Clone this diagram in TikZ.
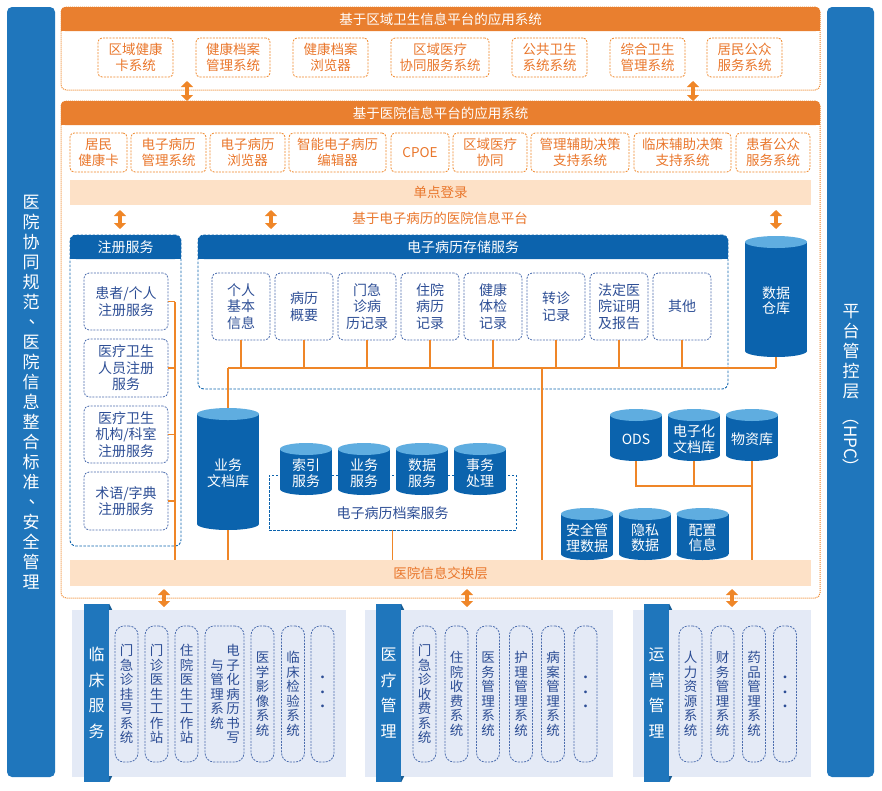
\documentclass[tikz,border=0pt]{standalone}
\usepackage{fontspec}
\setmainfont{Noto Sans CJK SC}
\usetikzlibrary{arrows.meta}

\definecolor{hdrorange}{HTML}{E97F2F}
\definecolor{txtorange}{HTML}{E9762B}
\definecolor{lineorange}{HTML}{EF8628}
\definecolor{peach}{HTML}{FDE1C7}
\definecolor{barblue}{HTML}{1F76BC}
\definecolor{hdrblue}{HTML}{0C63AD}
\definecolor{dbblue}{HTML}{0B63AD}
\definecolor{dbtop}{HTML}{5FADE0}
\definecolor{txtblue}{HTML}{2D4E95}
\definecolor{dashblue}{HTML}{4C6DAE}
\definecolor{panelbg}{HTML}{E4EAF6}

\tikzset{
  framebox/.style={draw=lineorange, dash pattern=on 1pt off 1pt, line width=1pt, rounded corners=5pt, inner sep=0pt},
  hdrband/.style={fill=hdrorange, rounded corners=4pt, text=white, inner sep=0pt, minimum width=759pt, minimum height=24pt, font=\fontsize{13.5}{16}\selectfont},
  orgbox/.style={draw=lineorange, dash pattern=on 2pt off 1.2pt, line width=0.8pt, rounded corners=4pt, text=txtorange, align=center, inner sep=0pt, minimum height=39pt, font=\fontsize{13.5}{16.5}\selectfont},
  peachband/.style={fill=peach, text=txtorange, inner sep=0pt, minimum width=741pt, font=\fontsize{13.5}{16}\selectfont},
  panel/.style={draw=hdrblue, dash pattern=on 2.5pt off 1.5pt, line width=0.9pt, rounded corners=6pt, inner sep=0pt},
  bluehdr/.style={fill=hdrblue, rounded corners=6pt, text=white, inner sep=0pt, minimum height=24pt, font=\fontsize{14}{16}\selectfont},
  bluebox/.style={draw=dashblue, dash pattern=on 2pt off 1.2pt, line width=0.8pt, rounded corners=5pt, text=txtblue, align=center, inner sep=0pt, font=\fontsize{14}{16.5}\selectfont},
  vbox/.style={bluebox, rounded corners=9pt, minimum width=23pt, minimum height=136pt, font=\fontsize{13.5}{14.5}\selectfont},
  vtext/.style={text=txtblue, align=center, inner sep=0pt, font=\fontsize{13.5}{14.5}\selectfont},
  cylbox/.style={inner sep=0pt},
  cyltext/.style={text=white, align=center, inner sep=0pt, font=\fontsize{14}{15.5}\selectfont},
  sidebar/.style={fill=barblue, rounded corners=5pt, text=white, align=center, inner sep=0pt, font=\fontsize{17}{20}\selectfont},
  tab/.style={fill=barblue, text=white, align=center, inner sep=0pt, minimum width=25pt, minimum height=178pt, font=\fontsize{16}{25.7}\selectfont},
  dblarrow/.style={draw=lineorange, line width=4pt, {Triangle[width=12pt,length=6pt]}-{Triangle[width=12pt,length=6pt]}},
  link/.style={draw=lineorange, line width=1.2pt},
}

% database drum: name, x, y, width, height, text
\newcommand{\dbcyl}[6]{%
  \fill[dbblue] ({#2-#4/2},{#3-#5/2+6}) rectangle ({#2+#4/2},{#3+#5/2-6});
  \fill[dbblue] (#2,{#3+#5/2-6}) ellipse [x radius=#4/2, y radius=6];
  \fill[dbtop] (#2,{#3-#5/2+6}) ellipse [x radius=#4/2, y radius=6];
  \node[cylbox, minimum width=#4pt, minimum height=#5pt] (#1) at (#2,#3) {};
  \node[cyltext] (#1T) at ([yshift=-4pt]#1.center) {#6};
}
% vertical comma
\newcommand{\vcomma}{\makebox[17pt][l]{\hspace{6pt}\raisebox{5pt}{、}}}

\begin{document}
\begin{tikzpicture}[x=1pt,y=-1pt]
  \useasboundingbox (0,0) rectangle (882,790);

  % side bars
  \node[sidebar, minimum width=48pt, minimum height=770pt] (lbar) at (31,392) {医\\院\\协\\同\\规\\范\\\vcomma\\医\\院\\信\\息\\整\\合\\标\\准\\\vcomma\\安\\全\\管\\理};
  \node[sidebar, minimum width=47pt, minimum height=770pt] (rbar) at (850.5,392) {};
  \node[text=white, align=center, font=\fontsize{17}{20}\selectfont] (hpcA) at (851,352) {平\\台\\管\\控\\层};
  \node[text=white, rotate=-90, font=\fontsize{17}{20}\selectfont] (hpcB) at (851,442) {（HPC）};

  % regional platform
  \node[framebox, minimum width=759pt, minimum height=83pt] (frameA) at (440.5,48.5) {};
  \fill[hdrorange] (61,19) rectangle (820,31);
  \node[hdrband] (hdrA) at (440.5,19) {基于区域卫生信息平台的应用系统};
  \begin{scope}[every node/.style={orgbox}]
    \node[minimum width=75pt] (reg1) at (135.5,57.5) {区域健康\\卡系统};
    \node[minimum width=74pt] (reg2) at (233,57.5) {健康档案\\管理系统};
    \node[minimum width=75pt] (reg3) at (330.5,57.5) {健康档案\\浏览器};
    \node[minimum width=98pt] (reg4) at (440,57.5) {区域医疗\\协同服务系统};
    \node[minimum width=75pt] (reg5) at (549.5,57.5) {公共卫生\\系统系统};
    \node[minimum width=75pt] (reg6) at (647.5,57.5) {综合卫生\\管理系统};
    \node[minimum width=75pt] (reg7) at (744.5,57.5) {居民公众\\服务系统};
  \end{scope}

  % hospital platform
  \node[framebox, minimum width=759pt, minimum height=497pt] (frameB) at (440.5,349.5) {};
  \fill[hdrorange] (61,113) rectangle (820,125);
  \node[hdrband] (hdrB) at (440.5,113) {基于医院信息平台的应用系统};
  \begin{scope}[every node/.style={orgbox}]
    \node[minimum width=57pt] (hos1) at (98.5,152.5) {居民\\健康卡};
    \node[minimum width=75pt] (hos2) at (168.5,152.5) {电子病历\\管理系统};
    \node[minimum width=75pt] (hos3) at (247.5,152.5) {电子病历\\浏览器};
    \node[minimum width=97pt] (hos4) at (337.5,152.5) {智能电子病历\\编辑器};
    \node[minimum width=58pt] (hos5) at (420,152.5) {CPOE};
    \node[minimum width=74pt] (hos6) at (490,152.5) {区域医疗\\协同};
    \node[minimum width=98pt] (hos7) at (580,152.5) {管理辅助决策\\支持系统};
    \node[minimum width=97pt] (hos8) at (682.5,152.5) {临床辅助决策\\支持系统};
    \node[minimum width=74pt] (hos9) at (773,152.5) {患者公众\\服务系统};
  \end{scope}
  \node[peachband, minimum height=25pt] (sso) at (440.5,192.5) {单点登录};
  \node[text=txtorange, font=\fontsize{13.5}{16}\selectfont] (emrPlat) at (440,218) {基于电子病历的医院信息平台};

  \coordinate (up1a) at (187,81);  \coordinate (up1b) at (187,101);
  \coordinate (up2a) at (693,81);  \coordinate (up2b) at (693,101);
  \coordinate (ss1a) at (120,210); \coordinate (ss1b) at (120,229);
  \coordinate (ss2a) at (271,210); \coordinate (ss2b) at (271,229);
  \coordinate (ss3a) at (776,210); \coordinate (ss3b) at (776,229);
  \draw[dblarrow] (up1a) -- (up1b);
  \draw[dblarrow] (up2a) -- (up2b);
  \draw[dblarrow] (ss1a) -- (ss1b);
  \draw[dblarrow] (ss2a) -- (ss2b);
  \draw[dblarrow] (ss3a) -- (ss3b);

  % register service
  \node[panel, minimum width=111pt, minimum height=311pt] (regPanel) at (125.5,390.5) {};
  \fill[hdrblue] (70,247) rectangle (181,259);
  \node[bluehdr, minimum width=111pt] (regHdr) at (125.5,247) {注册服务};
  \begin{scope}[every node/.style={bluebox, minimum width=84pt}]
    \node[minimum height=57pt] (rs1) at (126,301.5) {患者/个人\\注册服务};
    \node[minimum height=58pt] (rs2) at (126,368) {医疗卫生\\人员注册\\服务};
    \node[minimum height=57pt] (rs3) at (126,434.5) {医疗卫生\\机构/科室\\注册服务};
    \node[minimum height=58pt] (rs4) at (126,501) {术语/字典\\注册服务};
  \end{scope}

  % emr storage
  \node[panel, minimum width=530pt, minimum height=154pt] (emrPanel) at (463,312) {};
  \fill[hdrblue] (198,247) rectangle (728,259);
  \node[bluehdr, minimum width=530pt] (emrHdr) at (463,247) {电子病历存储服务};
  \begin{scope}[every node/.style={bluebox, minimum width=58pt, minimum height=67pt}]
    \node (emr1) at (241,306.5) {个人\\基本\\信息};
    \node (emr2) at (304,306.5) {病历\\概要};
    \node (emr3) at (367,306.5) {门急\\诊病\\历记录};
    \node (emr4) at (430,306.5) {住院\\病历\\记录};
    \node (emr5) at (493,306.5) {健康\\体检\\记录};
    \node (emr6) at (556,306.5) {转诊\\记录};
    \node (emr7) at (619,306.5) {法定医\\院证明\\及报告};
    \node (emr8) at (682,306.5) {其他};
  \end{scope}

  % archive service
  \node[draw=hdrblue, dash pattern=on 2.5pt off 1.5pt, line width=0.9pt, minimum width=247pt, minimum height=55pt, inner sep=0pt] (arc) at (392.5,502.5) {};
  \node[text=txtblue, font=\fontsize{14}{16}\selectfont] (arcLabel) at (392.5,513) {电子病历档案服务};

  % exchange layer
  \node[peachband, minimum height=26pt] (xch) at (440.5,573) {医院信息交换层};

  % databases
  \dbcyl{dw}{776}{296.5}{62}{121}{数据\\仓库}
  \dbcyl{bizdoc}{228}{469}{62}{122}{业务\\文档库}
  \dbcyl{idx}{306}{469}{52}{52}{索引\\服务}
  \dbcyl{biz}{364}{469}{52}{52}{业务\\服务}
  \dbcyl{dat}{422}{469}{52}{52}{数据\\服务}
  \dbcyl{txn}{480}{469}{52}{52}{事务\\处理}
  \dbcyl{ods}{636}{435}{52}{52}{ODS}
  \dbcyl{edoc}{694}{435}{52}{52}{电子化\\文档库}
  \dbcyl{mat}{752}{435}{52}{52}{物资库}
  \dbcyl{sec}{587}{534}{52}{52}{安全管\\理数据}
  \dbcyl{priv}{645}{534}{52}{52}{隐私\\数据}
  \dbcyl{cfg}{702.5}{534}{52}{52}{配置\\信息}

  % links
  \coordinate (busL) at (228,368);
  \coordinate (busM) at (542,368);
  \coordinate (busR) at (776,368);
  \coordinate (regBus) at (175,301.5);
  \coordinate (odsBus) at (752,486);
  \draw[link] (busL) -- (busR);
  \foreach \i in {1,...,8}
    \draw[link] (emr\i.south) -- (emr\i.south |- busL);
  \draw[link] (busM) -- (busM |- xch.north);
  \draw[link] (arc.south) -- (arc.south |- xch.north);
  \draw[link] (regBus) -- (regBus |- xch.north);
  \foreach \i in {1,...,4}
    \draw[link] (rs\i.east) -- (rs\i.east -| regBus);
  \draw[link] (dw.south) -- (busR);
  \draw[link] (busL) -- (bizdoc.north);
  \draw[link] (bizdoc.south) -- (bizdoc.south |- xch.north);
  \draw[link] (ods.south) |- (odsBus);
  \draw[link] (edoc.south) -- (edoc.south |- odsBus);
  \draw[link] (mat.south) -- (mat.south |- xch.north);

  % arrows to business systems
  \coordinate (dn1a) at (164,589); \coordinate (dn1b) at (164,607);
  \coordinate (dn2a) at (467,589); \coordinate (dn2b) at (467,607);
  \coordinate (dn3a) at (732,589); \coordinate (dn3b) at (732,607);
  \draw[dblarrow] (dn1a) -- (dn1b);
  \draw[dblarrow] (dn2a) -- (dn2b);
  \draw[dblarrow] (dn3a) -- (dn3b);

  % clinical services
  \node[fill=panelbg, minimum width=274pt, minimum height=167pt, inner sep=0pt] (clin) at (209,693.5) {};
  \node[tab] (clinTab) at (96.5,693) {临\\床\\服\\务};
  \fill[barblue!80!black] (clinTab.north east) -- ++(3,6) -- ++(-3,0) -- cycle;
  \fill[barblue!80!black] (clinTab.south east) -- ++(3,-6) -- ++(-3,0) -- cycle;
  \begin{scope}[every node/.style={vbox}]
    \node (c1) at (126.5,694) {门\\急\\诊\\挂\\号\\系\\统};
    \node (c2) at (156.5,694) {门\\诊\\医\\生\\工\\作\\站};
    \node (c3) at (186.5,694) {住\\院\\医\\生\\工\\作\\站};
    \node[minimum width=39pt] (c4) at (224.5,694) {};
    \node (c5) at (262.5,694) {医\\学\\影\\像\\系\\统};
    \node (c6) at (293,694) {临\\床\\检\\验\\系\\统};
    \node (c7) at (322.5,694) {·\\·\\·};
  \end{scope}
  \node[vtext] (c4a) at (233,694) {电\\子\\化\\病\\历\\书\\写};
  \node[vtext] (c4b) at (217,694) {与\\管\\理\\系\\统};

  % medical management
  \node[fill=panelbg, minimum width=248pt, minimum height=167pt, inner sep=0pt] (med) at (489,693.5) {};
  \node[tab] (medTab) at (388.5,693) {医\\疗\\管\\理};
  \fill[barblue!80!black] (medTab.north east) -- ++(3,6) -- ++(-3,0) -- cycle;
  \fill[barblue!80!black] (medTab.south east) -- ++(3,-6) -- ++(-3,0) -- cycle;
  \begin{scope}[every node/.style={vbox}]
    \node (m1) at (424.5,694) {门\\急\\诊\\收\\费\\系\\统};
    \node (m2) at (456.5,694) {住\\院\\收\\费\\系\\统};
    \node (m3) at (488,694) {医\\务\\管\\理\\系\\统};
    \node (m4) at (521,694) {护\\理\\管\\理\\系\\统};
    \node (m5) at (553,694) {病\\案\\管\\理\\系\\统};
    \node (m6) at (585.5,694) {·\\·\\·};
  \end{scope}

  % operations management
  \node[fill=panelbg, minimum width=178pt, minimum height=167pt, inner sep=0pt] (ops) at (722,693.5) {};
  \node[tab] (opsTab) at (656.5,693) {运\\营\\管\\理};
  \fill[barblue!80!black] (opsTab.north east) -- ++(3,6) -- ++(-3,0) -- cycle;
  \fill[barblue!80!black] (opsTab.south east) -- ++(3,-6) -- ++(-3,0) -- cycle;
  \begin{scope}[every node/.style={vbox}]
    \node (o1) at (690.5,694) {人\\力\\资\\源\\系\\统};
    \node (o2) at (722.5,694) {财\\务\\管\\理\\系\\统};
    \node (o3) at (754,694) {药\\品\\管\\理\\系\\统};
    \node (o4) at (785,694) {·\\·\\·};
  \end{scope}
\end{tikzpicture}
\end{document}
